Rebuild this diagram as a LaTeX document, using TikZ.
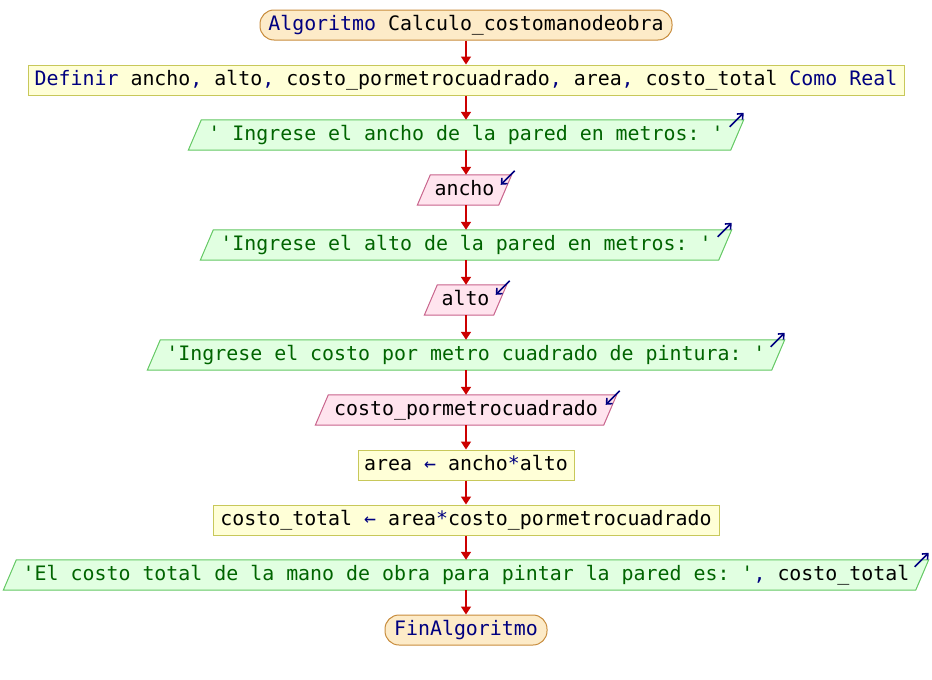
\documentclass[tikz,border=0pt]{standalone}
\usepackage{fontspec}
\setmonofont{DejaVu Sans Mono}
\usetikzlibrary{arrows.meta,backgrounds}

\definecolor{termfill}{RGB}{253,235,200}
\definecolor{termline}{RGB}{200,140,60}
\definecolor{procfill}{RGB}{255,255,215}
\definecolor{procline}{RGB}{200,200,90}
\definecolor{outfill}{RGB}{225,255,225}
\definecolor{outline}{RGB}{100,200,100}
\definecolor{infill}{RGB}{255,228,238}
\definecolor{inline}{RGB}{200,100,140}
\definecolor{flowred}{RGB}{204,0,0}
\definecolor{kw}{RGB}{0,0,128}
\definecolor{str}{RGB}{0,100,0}

\newcommand{\kw}[1]{\textcolor{kw}{#1}}
\newcommand{\str}[1]{\textcolor{str}{#1}}

% parallelogram outline drawn behind a node, top edge shifted right
\newcommand{\slantbox}[3]{%
  \begin{pgfonlayer}{background}
    \draw[#2] ([xshift=#3]#1.north west) -- ([xshift=#3]#1.north east)
      -- ([xshift=-#3]#1.south east) -- ([xshift=-#3]#1.south west) -- cycle;
  \end{pgfonlayer}
  \coordinate (#1-tr) at ([xshift=#3]#1.north east);
}

\tikzset{
  base/.style={inner sep=0pt, minimum height=30pt, text height=14.5pt,
    text depth=4.5pt, font=\fontsize{19.9pt}{22pt}\ttfamily},
  term/.style={base, draw=termline, fill=termfill, line width=1pt, rounded corners=14pt},
  proc/.style={base, draw=procline, fill=procfill, line width=1pt},
  outbox/.style={base},
  inbox/.style={base},
  outshape/.style={draw=outline, fill=outfill, line width=1pt},
  inshape/.style={draw=inline, fill=infill, line width=1pt},
  flow/.style={draw=flowred, line width=1.6pt, -{Triangle[width=10pt,length=8pt]}},
  iconarrow/.style={draw=kw, line width=1.6pt, -{Straight Barb[width=8pt,length=4.5pt]}},
}

\begin{document}
\begin{tikzpicture}[x=1pt, y=-1pt]
\useasboundingbox (0,0) rectangle (932,680);

\node[term, minimum width=412pt] (start) at (466,25) {\kw{Algoritmo} Calculo\_costomanodeobra};
\node[proc, minimum width=876pt] (def) at (466,80)
  {\kw{Definir} ancho\kw{,} alto\kw{,} costo\_pormetrocuadrado\kw{,} area\kw{,} costo\_total \kw{Como Real}};

\node[outbox, minimum width=542pt] (o1) at (466,135) {\str{' Ingrese el ancho de la pared en metros: '}};
\slantbox{o1}{outshape}{6.5pt}

\node[inbox, minimum width=81pt] (i1) at (464.5,190) {ancho};
\slantbox{i1}{inshape}{6.5pt}

\node[outbox, minimum width=518pt] (o2) at (466,245) {\str{'Ingrese el alto de la pared en metros: '}};
\slantbox{o2}{outshape}{6.5pt}

\node[inbox, minimum width=69pt] (i2) at (465.5,300) {alto};
\slantbox{i2}{inshape}{6.5pt}

\node[outbox, minimum width=624pt] (o3) at (466,355) {\str{'Ingrese el costo por metro cuadrado de pintura: '}};
\slantbox{o3}{outshape}{6.5pt}

\node[inbox, minimum width=288pt] (i3) at (466,410) {costo\_pormetrocuadrado};
\slantbox{i3}{inshape}{6.5pt}

\node[proc, minimum width=216pt] (p1) at (466,465) {area \kw{←} ancho\kw{*}alto};
\node[proc, minimum width=506pt] (p2) at (466,520) {costo\_total \kw{←} area\kw{*}costo\_pormetrocuadrado};

\node[outbox, minimum width=912pt] (o4) at (466,575)
  {\str{'El costo total de la mano de obra para pintar la pared es: '}\kw{,} costo\_total};
\slantbox{o4}{outshape}{6.5pt}

\node[term, minimum width=162pt] (fin) at (466,630) {\kw{FinAlgoritmo}};

% output / input markers
\foreach \n in {o1,o2,o3,o4}
  \draw[iconarrow] ([shift={(-14pt,-7pt)}]\n-tr) -- ([shift={(0pt,7pt)}]\n-tr);
\foreach \n in {i1,i2,i3}
  \draw[iconarrow] ([shift={(3pt,4pt)}]\n-tr) -- ([shift={(-11pt,-10pt)}]\n-tr);

% flow
\draw[flow] (start) -- (def);
\draw[flow] (def) -- (o1);
\draw[flow] (o1) -- (i1.north -| o1.south);
\draw[flow] (i1.south -| o1.south) -- (o2);
\draw[flow] (o2) -- (i2.north -| o2.south);
\draw[flow] (i2.south -| o2.south) -- (o3);
\draw[flow] (o3) -- (i3);
\draw[flow] (i3) -- (p1);
\draw[flow] (p1) -- (p2);
\draw[flow] (p2) -- (o4);
\draw[flow] (o4) -- (fin);
\end{tikzpicture}
\end{document}
